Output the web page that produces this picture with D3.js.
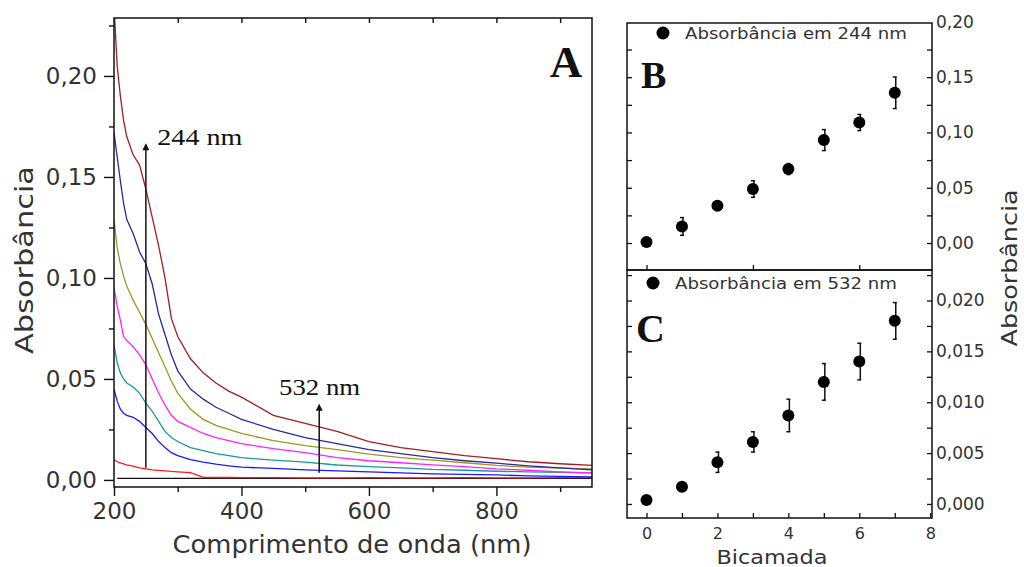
<!DOCTYPE html>
<html>
<head>
<meta charset="utf-8">
<script src="https://cdn.jsdelivr.net/npm/d3@7"></script>
<style>
  body { margin: 0; background: #fff; }
  text { font-family: "DejaVu Sans", sans-serif; fill: #333; }
  .serif { font-family: "Liberation Serif", "DejaVu Serif", serif; fill: #111; }
</style>
</head>
<body>
<svg id="chart" width="1024" height="567"></svg>
<script>

// ---- panel A data: spectra (absorbance vs wavelength) ----
var wavelengths = [200, 205, 210, 215, 220, 230, 240, 250, 260, 270, 280, 290, 300, 320, 340, 360, 380, 400, 450, 500, 550, 600, 650, 700, 750, 800, 850, 900, 950];

var spec7 = [0.235, 0.205, 0.190, 0.178, 0.170, 0.161, 0.156, 0.144, 0.130, 0.116, 0.100, 0.080, 0.071, 0.060, 0.053, 0.048, 0.044, 0.041, 0.032, 0.028, 0.024, 0.019, 0.016, 0.014, 0.012, 0.0105, 0.009, 0.008, 0.0072];
var spec6 = [0.172, 0.160, 0.148, 0.137, 0.129, 0.122, 0.113, 0.107, 0.097, 0.082, 0.072, 0.062, 0.054, 0.045, 0.040, 0.036, 0.033, 0.030, 0.025, 0.021, 0.018, 0.015, 0.013, 0.011, 0.0095, 0.0083, 0.007, 0.006, 0.005];
var spec5 = [0.129, 0.115, 0.107, 0.101, 0.096, 0.089, 0.083, 0.077, 0.070, 0.063, 0.056, 0.049, 0.043, 0.035, 0.030, 0.027, 0.025, 0.023, 0.0195, 0.017, 0.015, 0.0128, 0.011, 0.0098, 0.0085, 0.0072, 0.0063, 0.0058, 0.0054];
var spec4 = [0.095, 0.086, 0.079, 0.071, 0.069, 0.066, 0.062, 0.057, 0.050, 0.043, 0.037, 0.032, 0.029, 0.026, 0.023, 0.021, 0.0195, 0.018, 0.0155, 0.0135, 0.011, 0.0095, 0.0085, 0.0075, 0.0066, 0.0055, 0.0048, 0.004, 0.0035];
var spec3 = [0.067, 0.058, 0.053, 0.050, 0.048, 0.046, 0.043, 0.038, 0.034, 0.029, 0.024, 0.021, 0.019, 0.016, 0.0145, 0.013, 0.012, 0.011, 0.0098, 0.0088, 0.0074, 0.0066, 0.006, 0.0052, 0.0048, 0.0043, 0.004, 0.0037, 0.0035];
var spec2 = [0.045, 0.039, 0.035, 0.033, 0.032, 0.031, 0.029, 0.026, 0.023, 0.019, 0.016, 0.0135, 0.012, 0.010, 0.0088, 0.0078, 0.007, 0.0063, 0.0057, 0.005, 0.0045, 0.004, 0.0035, 0.003, 0.0028, 0.0025, 0.002, 0.0018, 0.0015];
var spec1 = [0.010, 0.009, 0.0085, 0.008, 0.0075, 0.0068, 0.006, 0.0055, 0.005, 0.0047, 0.0045, 0.0042, 0.004, 0.0036, 0.0013, 0.0012, 0.0012, 0.0011, 0.0011, 0.001, 0.001, 0.0011, 0.001, 0.001, 0.0011, 0.001, 0.001, 0.0011, 0.0011];
var spec0 = [null, 0.0008, 0.0008, 0.0008, 0.0008, 0.0008, 0.0008, 0.0008, 0.0008, 0.0008, 0.0008, 0.0008, 0.0008, 0.0008, 0.0008, 0.0008, 0.0008, 0.0008, 0.0008, 0.0008, 0.0008, 0.0008, 0.0008, 0.0008, 0.0008, 0.0008, 0.0008, 0.0008, 0.0008];

var spectra = [spec0, spec1, spec2, spec3, spec4, spec5, spec6, spec7];
var specColors = ["#111111", "#ff1a1a", "#1a1aff", "#1a9999", "#ff22ff", "#999922", "#2a2a99", "#a02020"];

var xTicksA = [200, 400, 600, 800];
var yTicksA = [0, 0.05, 0.10, 0.15, 0.20];

// ---- panels B and C data ----
var bilayers = [0, 1, 2, 3, 4, 5, 6, 7];
var abs244 = [0.001, 0.015, 0.0337, 0.0488, 0.0669, 0.0931, 0.109, 0.1359];
var err244 = [0.001, 0.008, 0.004, 0.0075, 0.005, 0.0095, 0.0073, 0.0143];
var abs532 = [0.0004, 0.0017, 0.0041, 0.0061, 0.0087, 0.0120, 0.0140, 0.0180];
var err532 = [0.0003, 0.0004, 0.001, 0.001, 0.0016, 0.0018, 0.0018, 0.0018];

var yTicksB = [0, 0.05, 0.10, 0.15, 0.20];
var yTicksC = [0, 0.005, 0.010, 0.015, 0.020];
var xTicksC = [0, 2, 4, 6, 8];

var comma = function(fmt) { return function(d) { return d3.format(fmt)(d).replace(".", ","); }; };

var svg = d3.select("#chart");
svg.append("rect").attr("width", 1024).attr("height", 567).attr("fill", "#fff");

// =============== PANEL A ===============
var xA = d3.scaleLinear().domain([200, 950]).range([114, 592]);
var yA = d3.scaleLinear().domain([-0.0035, 0.2287]).range([487, 18]);

svg.append("clipPath").attr("id", "clipA")
  .append("rect").attr("x", 114).attr("y", 18).attr("width", 478).attr("height", 469);

var line = d3.line()
  .defined(function(d) { return d[1] != null; })
  .x(function(d) { return xA(d[0]); })
  .y(function(d) { return yA(d[1]); });

var gLines = svg.append("g").attr("clip-path", "url(#clipA)");
spectra.forEach(function(s, i) {
  gLines.append("path")
    .datum(wavelengths.map(function(w, j) { return [w, s[j]]; }))
    .attr("d", line)
    .attr("fill", "none")
    .attr("stroke", specColors[i])
    .attr("stroke-width", 1.3);
});

// axes A
var axA = svg.append("g").attr("class", "axisA");
axA.append("g").attr("transform", "translate(0,487)")
  .call(d3.axisBottom(xA).tickValues(xTicksA).tickSize(9).tickPadding(7).tickFormat(d3.format("d")));
axA.append("g").attr("transform", "translate(0,487)")
  .call(d3.axisBottom(xA).tickValues([300, 500, 700, 900]).tickSize(5).tickFormat(""));
axA.append("g").attr("transform", "translate(0,18)")
  .call(d3.axisTop(xA).tickValues([300, 400, 500, 600, 700, 800, 900]).tickSize(-5).tickFormat(""));
axA.append("g").attr("transform", "translate(114,0)")
  .call(d3.axisLeft(yA).tickValues(yTicksA).tickSize(10).tickPadding(7).tickFormat(comma(".2f")));
axA.append("g").attr("transform", "translate(114,0)")
  .call(d3.axisLeft(yA).tickValues([0.025, 0.075, 0.125, 0.175, 0.225]).tickSize(5).tickFormat(""));
axA.selectAll(".domain").remove();
axA.selectAll("text").style("font-size", "23px").style("font-family", "DejaVu Sans").attr("fill", "#333");
axA.selectAll("line").attr("stroke", "#111").attr("stroke-width", 1.4);

svg.append("rect").attr("x", 114).attr("y", 18).attr("width", 478).attr("height", 469)
  .attr("fill", "none").attr("stroke", "#111").attr("stroke-width", 1.5);

svg.append("text")
  .attr("x", 352).attr("y", 553)
  .attr("text-anchor", "middle")
  .attr("textLength", 359).attr("lengthAdjust", "spacingAndGlyphs")
  .style("font-size", "25px")
  .text("Comprimento de onda (nm)");

svg.append("text")
  .attr("transform", "translate(33,260) rotate(-90)")
  .attr("text-anchor", "middle")
  .attr("textLength", 188).attr("lengthAdjust", "spacingAndGlyphs")
  .style("font-size", "25px")
  .text("Absorbância");

// arrows
var defs = svg.append("defs");
defs.append("marker").attr("id", "arrowHead")
  .attr("viewBox", "0 0 10 10").attr("refX", 8).attr("refY", 5)
  .attr("markerWidth", 9).attr("markerHeight", 7).attr("markerUnits", "userSpaceOnUse")
  .attr("orient", "auto")
  .append("path").attr("d", "M0,0 L10,5 L0,10 Z").attr("fill", "#111");

var arrows = [
  { wl: 250, from: 0.006, to: 0.166, label: "244 nm", lx: 268, ly: 0.166, len: 85 },
  { wl: 522, from: 0.0035, to: 0.037, label: "532 nm", lx: 459, ly: 0.0422, len: 81 }
];
arrows.forEach(function(a) {
  svg.append("line")
    .attr("x1", xA(a.wl)).attr("x2", xA(a.wl))
    .attr("y1", yA(a.from)).attr("y2", yA(a.to))
    .attr("stroke", "#111").attr("stroke-width", 1.5)
    .attr("marker-end", "url(#arrowHead)");
  svg.append("text").attr("class", "serif")
    .attr("x", xA(a.lx)).attr("y", yA(a.ly))
    .attr("textLength", a.len).attr("lengthAdjust", "spacingAndGlyphs")
    .style("font-size", "23px")
    .text(a.label);
});

svg.append("text").attr("class", "serif")
  .attr("x", 566).attr("y", 77).attr("text-anchor", "middle")
  .style("font-size", "45px").style("font-weight", "bold")
  .text("A");

// =============== PANELS B & C ===============
var xBC = d3.scaleLinear().domain([-0.55, 8.05]).range([627, 932]);
var yB = d3.scaleLinear().domain([-0.0244, 0.199]).range([270, 23]);
var yC = d3.scaleLinear().domain([-0.00138, 0.0230]).range([518, 270]);

function drawPanel(yScale, majors, minorStep, fmt, values, errors, legend, tag, top, bottom, legY, markX) {
  var g = svg.append("g");
  var minors = d3.range(0, yScale.domain()[1] + 1e-9, minorStep)
    .concat(d3.range(-minorStep, yScale.domain()[0], -minorStep));

  g.append("g").attr("transform", "translate(627,0)")
    .call(d3.axisLeft(yScale).tickValues(minors).tickSize(-5).tickFormat(""));
  g.append("g").attr("transform", "translate(932,0)")
    .call(d3.axisRight(yScale).tickValues(minors).tickSize(-5).tickFormat(""));
  g.append("g").attr("class", "rlab").attr("transform", "translate(932,0)")
    .call(d3.axisRight(yScale).tickValues(majors).tickSize(0).tickPadding(4).tickFormat(comma(fmt)));
  g.selectAll(".domain").remove();
  g.selectAll("line").attr("stroke", "#111").attr("stroke-width", 1.3);
  g.selectAll(".rlab text").style("font-size", "17px").attr("fill", "#333");

  // error bars
  var eb = g.append("g");
  bilayers.forEach(function(b, i) {
    var cx = xBC(b);
    eb.append("line")
      .attr("x1", cx + 1).attr("x2", cx + 1)
      .attr("y1", yScale(values[i] - errors[i])).attr("y2", yScale(values[i] + errors[i]))
      .attr("stroke", "#111").attr("stroke-width", 1.5);
    [values[i] - errors[i], values[i] + errors[i]].forEach(function(v) {
      eb.append("line")
        .attr("x1", cx - 2).attr("x2", cx + 2)
        .attr("y1", yScale(v)).attr("y2", yScale(v))
        .attr("stroke", "#111").attr("stroke-width", 1.5);
    });
  });

  g.selectAll("circle.pt")
    .data(values)
    .enter().append("circle")
    .attr("class", "pt")
    .attr("cx", function(d, i) { return xBC(bilayers[i]); })
    .attr("cy", function(d) { return yScale(d); })
    .attr("r", 6)
    .attr("fill", "#000");

  // legend
  g.append("circle").attr("cx", markX).attr("cy", legY).attr("r", 6.5).attr("fill", "#000");
  g.append("text")
    .attr("x", markX + 22).attr("y", legY + 6)
    .attr("textLength", 222).attr("lengthAdjust", "spacingAndGlyphs")
    .style("font-size", "16px").attr("fill", "#444")
    .text(legend);

  g.append("text").attr("class", "serif")
    .attr("x", tag.x).attr("y", tag.y)
    .style("font-size", tag.size + "px").style("font-weight", "bold")
    .text(tag.t);

  svg.append("rect").attr("x", 627).attr("y", top).attr("width", 305).attr("height", bottom - top)
    .attr("fill", "none").attr("stroke", "#111").attr("stroke-width", 1.5);
}

drawPanel(yB, yTicksB, 0.025, ".2f", abs244, err244, "Absorbância em 244 nm",
  { t: "B", x: 641, y: 88, size: 38 }, 23, 270, 33, 663);
drawPanel(yC, yTicksC, 0.0025, ".3f", abs532, err532, "Absorbância em 532 nm",
  { t: "C", x: 636, y: 342, size: 40 }, 270, 518, 283, 653);

// x ticks between B and C, and bottom axis of C
var axBC = svg.append("g");
axBC.append("g").attr("transform", "translate(0,270)")
  .call(d3.axisBottom(xBC).tickValues([0, 3, 6]).tickSize(-5).tickFormat(""));
axBC.append("g").attr("transform", "translate(0,518)")
  .call(d3.axisBottom(xBC).tickValues(bilayers.concat([8])).tickSize(-5).tickFormat(""));
axBC.append("g").attr("class", "blab").attr("transform", "translate(0,518)")
  .call(d3.axisBottom(xBC).tickValues(xTicksC).tickSize(0).tickPadding(10).tickFormat(d3.format("d")));
axBC.selectAll(".domain").remove();
axBC.selectAll("line").attr("stroke", "#111").attr("stroke-width", 1.3);
axBC.selectAll(".blab text").style("font-size", "16px").attr("fill", "#333");

svg.append("text")
  .attr("x", 772).attr("y", 564).attr("text-anchor", "middle")
  .attr("textLength", 111).attr("lengthAdjust", "spacingAndGlyphs")
  .style("font-size", "19px")
  .text("Bicamada");

svg.append("text")
  .attr("transform", "translate(1017,268) rotate(-90)")
  .attr("text-anchor", "middle")
  .attr("textLength", 157).attr("lengthAdjust", "spacingAndGlyphs")
  .style("font-size", "22px")
  .text("Absorbância");

</script>
</body>
</html>
